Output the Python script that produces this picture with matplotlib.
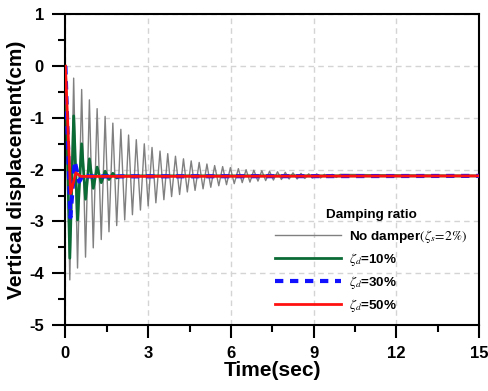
import matplotlib
matplotlib.use("Agg")
import matplotlib.pyplot as plt
from matplotlib.ticker import MultipleLocator

plt.rcParams['font.family'] = ['Liberation Sans', 'DejaVu Sans']
plt.rcParams['mathtext.fontset'] = 'stix'
plt.rcParams['axes.unicode_minus'] = False

# ---- data ----
static_value = -2.12
t_end = 15.0

# No damper (zeta_s = 2%): start, successive extrema, end
t_nd = [0.0, 0.16, 0.30, 0.44, 0.59, 0.73, 0.87, 1.01, 1.15, 1.30, 1.44, 1.58, 1.72, 1.86, 2.01,
        2.15, 2.29, 2.43, 2.57, 2.72, 2.86, 3.00, 3.14, 3.28, 3.43, 3.57, 3.71, 3.85, 3.99,
        4.14, 4.28, 4.42, 4.56, 4.70, 4.85, 4.99, 5.13, 5.27, 5.41, 5.56, 5.70, 5.84, 5.98,
        6.12, 6.27, 6.41, 6.55, 6.69, 6.83, 6.98, 7.12, 7.26, 7.40, 7.54, 7.69, 7.83, 7.97,
        8.11, 8.25, 8.40, 8.54, 8.68, 8.82, 8.96, 9.11, 9.25, 9.39, 9.53, 9.67, 9.82, 9.96,
        15.0]
y_nd = [0.0, -4.13, -0.23, -3.90, -0.45, -3.69, -0.65, -3.51, -0.82, -3.35, -0.97, -3.20, -1.10,
        -3.08, -1.22, -2.97, -1.33, -2.87, -1.42, -2.78, -1.50, -2.70, -1.57, -2.64, -1.64,
        -2.58, -1.69, -2.52, -1.74, -2.48, -1.79, -2.43, -1.83, -2.40, -1.86, -2.37, -1.89,
        -2.34, -1.92, -2.31, -1.94, -2.29, -1.96, -2.27, -1.98, -2.25, -2.00, -2.24, -2.01,
        -2.22, -2.02, -2.21, -2.03, -2.20, -2.04, -2.19, -2.05, -2.18, -2.06, -2.18, -2.07,
        -2.17, -2.08, -2.16, -2.08, -2.16, -2.09, -2.15, -2.09, -2.15, -2.09, -2.12]

# zeta_d = 10%
t_10 = [0.0, 0.16, 0.30, 0.44, 0.59, 0.73, 0.87, 1.01, 1.15, 1.30, 1.44, 1.58, 1.72, 1.86, 2.01, 15.0]
y_10 = [0.0, -3.71, -0.96, -2.97, -1.50, -2.57, -1.79, -2.36, -1.95, -2.25, -2.03, -2.19, -2.07,
        -2.16, -2.12, -2.12]

# zeta_d = 30%
t_30 = [0.0, 0.18, 0.34, 0.50, 0.66, 0.82, 15.0]
y_30 = [0.0, -2.92, -1.84, -2.23, -2.08, -2.13, -2.12]

# zeta_d = 50%
t_50 = [0.0, 0.19, 0.38, 0.56, 15.0]
y_50 = [0.0, -2.46, -2.06, -2.13, -2.12]

labels = ["No damper" + r"$(\zeta_s\!=\!2\%)$",
          r"$\zeta_d$" + "=10%",
          r"$\zeta_d$" + "=30%",
          r"$\zeta_d$" + "=50%"]

xticks = [0, 3, 6, 9, 12, 15]
yticks = [-5, -4, -3, -2, -1, 0, 1]

# ---- figure ----
fig = plt.figure(figsize=(4.88, 3.91), dpi=100)
ax = fig.add_axes([0.134, 0.169, 0.848, 0.794])

ax.plot(t_nd, y_nd, color='#808080', lw=1.0, label=labels[0], zorder=2)
ax.plot(t_10, y_10, color='#0b6b35', lw=2.0, label=labels[1], zorder=3)
ax.plot(t_30, y_30, color='#1010ff', lw=3.0, ls=(0, (2.0, 1.6)), label=labels[2], zorder=4)
ax.plot(t_50, y_50, color='#ff1010', lw=2.0, label=labels[3], zorder=5)

ax.set_xlim(0, 15)
ax.set_ylim(-5, 1)
ax.set_xticks(xticks)
ax.set_yticks(yticks)
ax.xaxis.set_minor_locator(MultipleLocator(1.5))
ax.yaxis.set_minor_locator(MultipleLocator(0.5))

ax.grid(True, which='major', color='#d4d4d4', ls=(0, (4, 3)), lw=1.0, zorder=0)
ax.set_axisbelow(True)

for s in ax.spines.values():
    s.set_linewidth(1.5)

ax.tick_params(which='major', direction='out', length=9.5, width=1.5, pad=6,
               labelsize=12)
ax.tick_params(which='minor', direction='out', length=5, width=1.5)
for lab in ax.get_xticklabels() + ax.get_yticklabels():
    lab.set_fontweight('bold')

ax.set_xlabel("Time(sec)", fontsize=15, fontweight='bold', labelpad=0)
ax.set_ylabel("Vertical displacement(cm)", fontsize=15, fontweight='bold', labelpad=2)

leg = ax.legend(loc='lower right', bbox_to_anchor=(1.0, -0.003), frameon=False,
                title="Damping ratio", handlelength=4.9, handletextpad=0.6,
                prop={'weight': 'bold', 'size': 9.7}, labelspacing=0.45,
                title_fontproperties={'weight': 'bold', 'size': 9.7})

fig.savefig("out.png", dpi=100)
